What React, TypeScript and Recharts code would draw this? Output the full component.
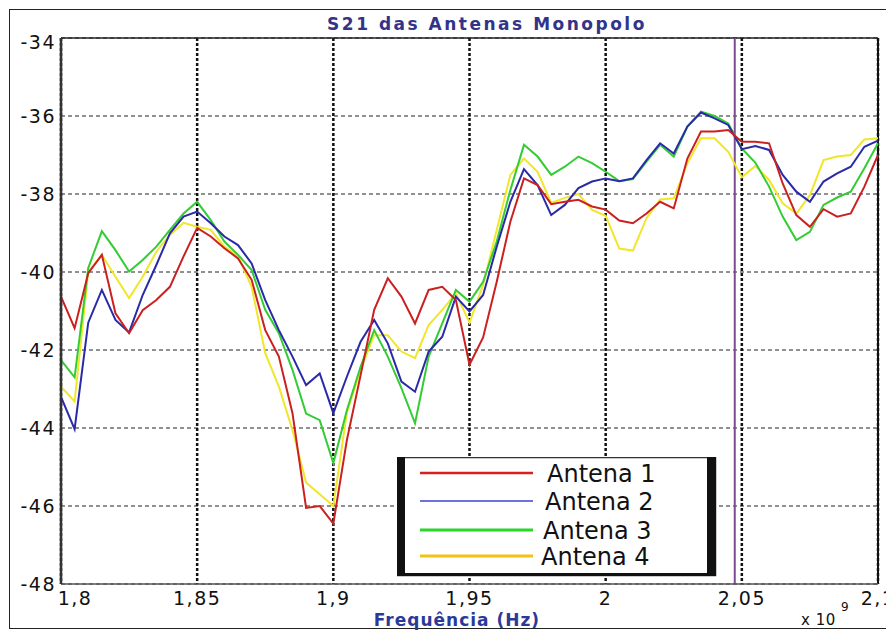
import { LineChart, Line, XAxis, YAxis, CartesianGrid, ReferenceLine } from "recharts"

// frequency in GHz (axis shows x 10^9 Hz)
const freqs = [
  1.8, 1.805, 1.81, 1.815, 1.82, 1.825, 1.83, 1.835, 1.84, 1.845,
  1.85, 1.855, 1.86, 1.865, 1.87, 1.875, 1.88, 1.885, 1.89, 1.895,
  1.9, 1.905, 1.91, 1.915, 1.92, 1.925, 1.93, 1.935, 1.94, 1.945,
  1.95, 1.955, 1.96, 1.965, 1.97, 1.975, 1.98, 1.985, 1.99, 1.995,
  2.0, 2.005, 2.01, 2.015, 2.02, 2.025, 2.03, 2.035, 2.04, 2.045,
  2.05, 2.055, 2.06, 2.065, 2.07, 2.075, 2.08, 2.085, 2.09, 2.095, 2.1,
]

const antena1 = [
  -40.63, -41.44, -40.03, -39.56, -41.06, -41.57, -40.98, -40.72, -40.38, -39.6,
  -38.87, -39.09, -39.39, -39.65, -40.2, -41.49, -42.17, -43.62, -46.05, -46.0,
  -46.45, -44.3, -42.65, -40.97, -40.16, -40.63, -41.32, -40.46, -40.38, -40.72,
  -42.38, -41.68, -40.25, -38.71, -37.6, -37.77, -38.26, -38.2, -38.15, -38.32,
  -38.4, -38.68, -38.75, -38.5, -38.2, -38.37, -37.09, -36.4, -36.4, -36.36,
  -36.66, -36.66, -36.7, -37.73, -38.54, -38.84, -38.39, -38.58, -38.5, -37.81, -37.0,
]

const antena2 = [
  -43.2, -44.03, -41.3, -40.46, -41.23, -41.55, -40.59, -39.82, -39.01, -38.58,
  -38.45, -38.75, -39.09, -39.31, -39.78, -40.72, -41.49, -42.17, -42.9, -42.6,
  -43.62, -42.68, -41.79, -41.23, -41.83, -42.81, -43.07, -42.04, -41.66, -40.63,
  -41.01, -40.59, -39.35, -38.2, -37.36, -37.77, -38.54, -38.28, -37.85, -37.68,
  -37.6, -37.67, -37.6, -37.13, -36.7, -36.96, -36.27, -35.91, -36.06, -36.23,
  -36.85, -36.77, -36.87, -37.51, -37.94, -38.2, -37.68, -37.47, -37.3, -36.79, -36.63,
]

const antena3 = [
  -42.26, -42.7, -39.9, -38.95, -39.44, -39.99, -39.69, -39.35, -38.92, -38.5,
  -38.2, -38.67, -39.22, -39.56, -39.95, -40.97, -41.57, -42.51, -43.63, -43.8,
  -44.9, -43.54, -42.43, -41.49, -42.17, -42.98, -43.88, -42.17, -41.32, -40.46,
  -40.76, -40.25, -39.22, -37.9, -36.74, -37.04, -37.51, -37.3, -37.04, -37.21,
  -37.43, -37.67, -37.62, -37.17, -36.74, -37.04, -36.27, -35.89, -36.0, -36.19,
  -36.83, -37.2, -37.81, -38.58, -39.18, -38.97, -38.28, -38.09, -37.94, -37.34, -36.7,
]

const antena4 = [
  -42.94, -43.32, -40.0, -39.56, -40.12, -40.67, -40.12, -39.48, -39.05, -38.74,
  -38.84, -38.92, -39.35, -39.6, -40.38, -42.08, -42.94, -44.05, -45.4, -45.7,
  -46.0, -43.6, -42.51, -41.62, -41.62, -42.04, -42.21, -41.36, -40.97, -40.55,
  -41.3, -40.33, -38.92, -37.51, -37.09, -37.43, -38.23, -38.1, -38.0, -38.41,
  -38.56, -39.4, -39.45, -38.62, -38.14, -38.11, -37.21, -36.57, -36.57, -36.92,
  -37.57, -37.28, -37.64, -38.24, -38.5, -38.03, -37.13, -37.04, -37.0, -36.6, -36.57,
]

const xTicks = [1.8, 1.85, 1.9, 1.95, 2.0, 2.05, 2.1]
const yTicks = [-48, -46, -44, -42, -40, -38, -36, -34]
const markerFreq = 2.0474

const series = [
  { key: "a4", name: "Antena 4", color: "#f0e62a", legendColor: "#f2c218", legendWidth: 3 },
  { key: "a3", name: "Antena 3", color: "#33cc33", legendColor: "#2bd62b", legendWidth: 3 },
  { key: "a2", name: "Antena 2", color: "#2a2aa8", legendColor: "#4040d0", legendWidth: 1.5 },
  { key: "a1", name: "Antena 1", color: "#cc2020", legendColor: "#d61f1f", legendWidth: 2.5 },
]

const data = freqs.map((f, i) => ({
  f,
  a1: antena1[i],
  a2: antena2[i],
  a3: antena3[i],
  a4: antena4[i],
}))

const tickFont = "'DejaVu Sans', Verdana, sans-serif"

function YTick({ y, payload }: any) {
  return (
    <text x={56} y={y + (payload.value === -34 ? 11 : 7)} textAnchor="end" fontSize={19} fontFamily={tickFont} letterSpacing={1.5} fill="#111">
      {payload.value}
    </text>
  )
}

function XTick({ x, y, payload, index }: any) {
  const label = String(payload.value).replace(".", ",")
  return (
    <text x={x + (index === 0 ? 14 : 0)} y={y + 13} textAnchor="middle" fontSize={19} fontFamily={tickFont} letterSpacing={1.5} fill="#111">
      {label}
    </text>
  )
}

// legend box drawn over the plot, same look as the original (thick left/right bars)
function LegendBox() {
  const rows = [...series].reverse()
  return (
    <svg width={320} height={120} style={{ position: "absolute", left: 397, top: 457 }}>
      <rect x={0.5} y={0.5} width={318} height={118} fill="#fff" stroke="#333" strokeWidth={1.5} />
      <rect x={0} y={0} width={8} height={119} fill="#111" />
      <rect x={310} y={0} width={9} height={119} fill="#111" />
      <rect x={0} y={116} width={319} height={3} fill="#111" />
      {rows.map((s, i) => {
        const cy = [16, 44, 73, 99][i]
        return (
          <g key={s.key}>
            <line x1={23} x2={136} y1={cy} y2={cy} stroke={s.legendColor} strokeWidth={s.legendWidth} />
            <text x={150 - i * 2} y={cy + 9} fontSize={24} fontFamily={tickFont} fill="#111">
              {s.name}
            </text>
          </g>
        )
      })}
    </svg>
  )
}

export default function App() {
  return (
    <div style={{ position: "absolute", left: 0, top: 0, width: 886, height: 630, background: "#fff", overflow: "hidden" }}>
      <LineChart width={886} height={630} data={data} margin={{ top: 38, right: 8, left: 0, bottom: 0 }}>
        <CartesianGrid vertical={false} stroke="#222" strokeDasharray="4 3" strokeWidth={1} />
        <CartesianGrid horizontal={false} stroke="#111" strokeDasharray="3 2" strokeWidth={2.5} />
        <XAxis
          dataKey="f"
          type="number"
          domain={[1.8, 2.1]}
          ticks={xTicks}
          height={46}
          tickLine={false}
          axisLine={{ stroke: "#555", strokeWidth: 1.5 }}
          tick={<XTick />}
          interval={0}
        />
        <YAxis
          type="number"
          domain={[-48, -34]}
          ticks={yTicks}
          width={61}
          tickLine={false}
          axisLine={{ stroke: "#333", strokeWidth: 2.5 }}
          tick={<YTick />}
          interval={0}
        />
        <ReferenceLine y={-34} stroke="#222" strokeWidth={1.5} />
        <ReferenceLine x={2.1} stroke="#111" strokeWidth={2} />
        <ReferenceLine x={markerFreq} stroke="#7d4b91" strokeWidth={2} />
        {series.map((s) => (
          <Line
            key={s.key}
            type="linear"
            dataKey={s.key}
            name={s.name}
            stroke={s.color}
            strokeWidth={2}
            dot={false}
            isAnimationActive={false}
          />
        ))}
      </LineChart>
      <LegendBox />
      <svg width={886} height={630} style={{ position: "absolute", left: 0, top: 0, pointerEvents: "none" }}>
        <rect x={9.5} y={9.5} width={890} height={619} fill="none" stroke="#222" strokeWidth={1} />
        <text x={487} y={30} textAnchor="middle" fontSize={17} fontWeight="bold" fontFamily={tickFont} letterSpacing={2.5} fill="#33338a">
          S21 das Antenas Monopolo
        </text>
        <text x={457} y={626} textAnchor="middle" fontSize={17} fontWeight="bold" fontFamily={tickFont} letterSpacing={1} fill="#2b3a99">
          Frequência (Hz)
        </text>
        <text x={801} y={625} fontSize={15} fontFamily={tickFont} letterSpacing={0.5} fill="#111">x 10</text>
        <text x={841} y={611} fontSize={12} fontFamily={tickFont} fill="#111">9</text>
      </svg>
    </div>
  )
}
